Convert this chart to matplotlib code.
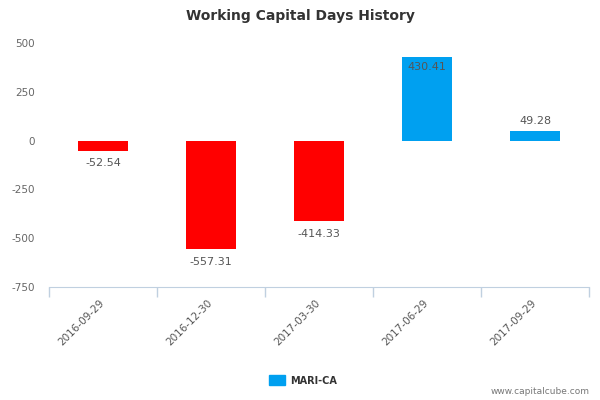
import matplotlib
matplotlib.use("Agg")
import matplotlib.pyplot as plt
import matplotlib.transforms as mtransforms
import numpy as np

categories = ["2016-09-29", "2016-12-30", "2017-03-30", "2017-06-29", "2017-09-29"]
values = [-52.54, -557.31, -414.33, 430.41, 49.28]
labels = ["-52.54", "-557.31", "-414.33", "430.41", "49.28"]
yticks = [500, 250, 0, -250, -500, -750]
series_name = "MARI-CA"

fig = plt.figure(figsize=(6, 4), dpi=100)
ax = fig.add_axes([49/600, 1-287/400, 540/600, 244/400])

x = np.arange(len(categories))
colors = ["#ff0000" if v < 0 else "#00a0f0" for v in values]
ax.bar(x, values, width=0.47, color=colors, zorder=2)

ax.set_xlim(-0.5, len(categories) - 0.5)
ax.set_ylim(-750, 500)
ax.set_yticks(yticks)
ax.set_yticklabels([str(t) for t in yticks], fontsize=7.5, color="#666666")
ax.tick_params(axis="y", length=0, pad=10)

ax.set_xticks(x)
ax.set_xticklabels(categories, rotation=45, ha="right", rotation_mode="anchor",
                   fontsize=7.5, color="#555555")
ax.set_xticks(np.arange(len(categories) + 1) - 0.5, minor=True)
ax.tick_params(axis="x", which="major", length=0, pad=8)
ax.tick_params(axis="x", which="minor", length=7, color="#c0d0e0", width=1)
offset = mtransforms.ScaledTranslation(-4/100, 0, fig.dpi_scale_trans)
for lab in ax.get_xticklabels():
    lab.set_transform(lab.get_transform() + offset)

for s in ["top", "right", "left"]:
    ax.spines[s].set_visible(False)
ax.spines["bottom"].set_color("#c0d0e0")

for xi, v, lab in zip(x, values, labels):
    if v < 0:
        ax.text(xi, v - 38, lab, ha="center", va="top", fontsize=8, color="#555555")
    elif v > 200:
        ax.text(xi, v - 30, lab, ha="center", va="top", fontsize=8, color="#555555")
    else:
        ax.text(xi, v + 25, lab, ha="center", va="bottom", fontsize=8, color="#555555")

fig.text(0.5, 1 - 16/400, "Working Capital Days History", ha="center", va="center",
         fontsize=10, fontweight="bold", color="#333333")

fig.patches.append(matplotlib.patches.Rectangle((269/600, 1-385/400), 16/600, 10/400,
                   transform=fig.transFigure, color="#00a0f0", figure=fig))
fig.text(290/600, 1 - 381/400, series_name, ha="left", va="center",
         fontsize=7, fontweight="bold", color="#333333")
fig.text(590/600, 1 - 392/400, "www.capitalcube.com", ha="right", va="center",
         fontsize=6.5, color="#777777")

fig.savefig("out.png", dpi=100)
